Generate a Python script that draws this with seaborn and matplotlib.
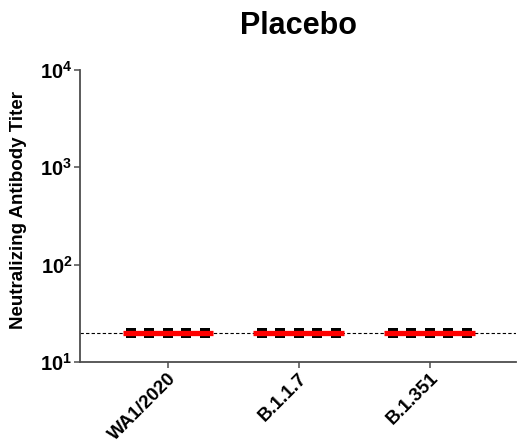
import matplotlib
matplotlib.use("Agg")
import matplotlib.pyplot as plt
from matplotlib.markers import MarkerStyle
from matplotlib.transforms import Affine2D
import numpy as np
import pandas as pd
import seaborn as sns

# Placebo group: every sample at the assay's lower limit of detection
variants = ["WA1/2020", "B.1.1.7", "B.1.351"]
titers_wa1 = [20, 20, 20, 20, 20]
titers_b117 = [20, 20, 20, 20, 20]
titers_b1351 = [20, 20, 20, 20, 20]
lod = 20
ytick_values = [10, 100, 1000, 10000]
ytick_labels = [r"$\mathbf{10^{1}}$", r"$\mathbf{10^{2}}$",
                r"$\mathbf{10^{3}}$", r"$\mathbf{10^{4}}$"]

df = pd.DataFrame({
    "variant": np.repeat(variants, 5),
    "titer": titers_wa1 + titers_b117 + titers_b1351,
})

sns.set_style("ticks")
plt.rcParams["font.family"] = ["Liberation Sans", "DejaVu Sans"]
plt.rcParams["mathtext.fontset"] = "custom"
plt.rcParams["mathtext.bf"] = "Liberation Sans:bold"
plt.rcParams["mathtext.rm"] = "Liberation Sans"
plt.rcParams["text.color"] = "black"
plt.rcParams["axes.labelcolor"] = "black"

fig = plt.figure(figsize=(5.17, 4.46), dpi=100)
ax = fig.add_axes([80 / 517, 1 - 362 / 446, 436 / 517, (362 - 70) / 446])
ax.set_yscale("log")

# Dashed limit-of-detection line
ax.axhline(lod, color="black", lw=0.8, ls=(0, (3, 2)), zorder=0.5)

# Individual samples: small black blocks spread as a swarm
block = MarkerStyle("s", transform=Affine2D().scale(0.58, 0.54))
sns.swarmplot(data=df, x="variant", y="titer", order=variants, ax=ax,
              marker=block, size=12.7, color="black", linewidth=0, zorder=2)

# Group medians as red bars
sns.boxplot(data=df, x="variant", y="titer", order=variants, ax=ax,
            width=0.69, showbox=False, showcaps=False, showfliers=False,
            whiskerprops={"visible": False},
            medianprops={"color": "red", "linewidth": 3.8, "zorder": 3,
                         "solid_capstyle": "butt"})

ax.set_ylim(10, 10000)
ax.set_xlim(-0.67, 2.66)
ax.set_yticks(ytick_values)
ax.set_yticklabels(ytick_labels, fontsize=14.5)
ax.yaxis.set_minor_locator(matplotlib.ticker.NullLocator())

ax.set_xticks(range(len(variants)))
ax.set_xticklabels(variants, rotation=45, ha="right", va="top",
                   rotation_mode="anchor", fontsize=13.5, fontweight="bold")

ax.set_xlabel("")
ax.set_ylabel("Neutralizing Antibody Titer", fontsize=13.5, fontweight="bold",
              labelpad=9, color="black")
ax.yaxis.label.set_y(0.52)
ax.set_title("Placebo", fontsize=22, fontweight="bold", pad=26, color="black")

for side in ["left", "bottom"]:
    ax.spines[side].set_color("#4d4d4d")
    ax.spines[side].set_linewidth(1.3)
sns.despine(ax=ax)
ax.tick_params(axis="both", which="major", length=4, width=1.1,
               color="#4d4d4d", labelcolor="black", pad=1.5)

fig.savefig("out.png", dpi=100)
